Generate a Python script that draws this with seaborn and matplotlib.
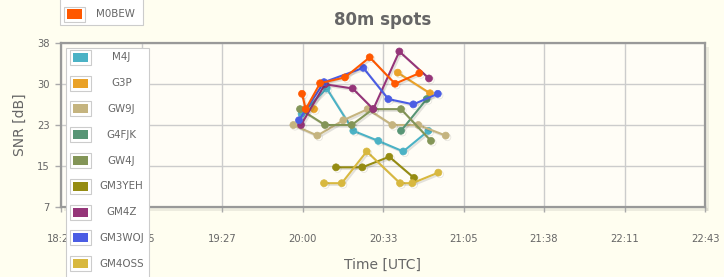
import numpy as np
import pandas as pd
import matplotlib
matplotlib.use("Agg")
import matplotlib.pyplot as plt
import matplotlib.patheffects as pe
from matplotlib.patches import Rectangle
import seaborn as sns

# ---------------- data ----------------
series_names = ["M4J", "G3P", "GW9J", "G4FJK", "GW4J", "GM3YEH", "GM4Z", "GM3WOJ", "GM4OSS", "M0BEW"]
series_colors = ["#4bb2c5", "#EAA228", "#c5b47f", "#579575", "#839557",
                 "#958c12", "#953579", "#4b5de4", "#d8b83f", "#ff5800"]

m4j_t = ["19:59:50", "20:10:00", "20:20:47", "20:30:54", "20:41:00", "20:51:10"]
m4j_snr = [24.6, 29.4, 21.4, 19.5, 17.5, 21.4]

g3p_t = ["20:04:52", None, "20:38:46", "20:51:50"]
g3p_snr = [25.5, None, 32.4, 28.5]

gw9j_t = ["19:56:30", "20:06:12", "20:16:44", "20:26:36", "20:36:34", "20:47:06", "20:58:12"]
gw9j_snr = [22.5, 20.5, 23.4, 25.5, 22.5, 22.5, 20.5]

g4fjk_t = ["20:40:06", "20:50:30"]
g4fjk_snr = [21.4, 27.4]

gw4j_t = ["19:59:12", "20:09:19", "20:20:08", "20:28:45", "20:40:06", "20:52:14"]
gw4j_snr = [25.5, 22.5, 22.5, 25.5, 25.5, 19.5]

gm3yeh_t = ["20:13:46", "20:24:25", "20:35:21", "20:45:22"]
gm3yeh_snr = [14.5, 14.5, 16.5, 12.5]

gm4z_t = ["19:59:36", "20:09:19", "20:20:32", "20:28:52", "20:39:25", "20:51:26"]
gm4z_snr = [22.5, 30.2, 29.4, 25.5, 36.4, 31.3]

gm3woj_t = ["19:58:47", "20:08:55", "20:24:50", "20:34:57", "20:45:05", "20:55:00"]
gm3woj_snr = [23.4, 30.6, 33.3, 27.4, 26.4, 28.4]

gm4oss_t = ["20:08:55", "20:16:05", "20:26:12", "20:39:42", "20:44:40", "20:55:12"]
gm4oss_snr = [11.5, 11.5, 17.5, 11.5, 11.5, 13.5]

m0bew_t = ["20:00:00", "20:01:30", "20:07:20", "20:17:25", "20:27:25", "20:37:40", "20:47:30"]
m0bew_snr = [28.4, 25.5, 30.4, 31.5, 35.3, 30.3, 32.3]

x_tick_labels = ["18:22", "18:55", "19:27", "20:00", "20:33", "21:05", "21:38", "22:11", "22:43"]
y_tick_labels = ["7", "15", "23", "30", "38"]
x_start, x_end = "18:22:24", "22:43:12"
y_min, y_max = 7, 38

series_times = [m4j_t, g3p_t, gw9j_t, g4fjk_t, gw4j_t, gm3yeh_t, gm4z_t, gm3woj_t, gm4oss_t, m0bew_t]
series_snr = [m4j_snr, g3p_snr, gw9j_snr, g4fjk_snr, gw4j_snr, gm3yeh_snr, gm4z_snr, gm3woj_snr, gm4oss_snr, m0bew_snr]


def to_min(s):
    h, m, sec = (int(v) for v in s.split(":"))
    return h * 60 + m + sec / 60.0


rows = []
for name, ts, vs in zip(series_names, series_times, series_snr):
    seg = 0
    for t, v in zip(ts, vs):
        if t is None:
            seg += 1
            continue
        rows.append({"call": name, "minute": to_min(t), "snr": v, "seg": f"{name}_{seg}"})
df = pd.DataFrame(rows)

# ---------------- figure ----------------
W, H = 724, 277
sns.set_theme(style="white")
plt.rcParams["font.family"] = ["DejaVu Sans"]

fig = plt.figure(figsize=(W / 100, H / 100), dpi=100)
fig.patch.set_facecolor("#fffef0")


def fx(px):
    return px / W


def fy(py):
    return 1 - py / H


L, R, T, B = 61, 705, 43, 207
ax = fig.add_axes([fx(L), fy(B), (R - L) / W, (B - T) / H])
ax.set_facecolor("#fffdf6")

palette = dict(zip(series_names, series_colors))
sns.lineplot(data=df, x="minute", y="snr", hue="call", hue_order=series_names,
             units="seg", estimator=None, palette=palette, marker="o",
             markersize=5, markeredgewidth=0.5, linewidth=1.5, legend=False, ax=ax)

for ln in ax.lines:
    ln.set_markeredgecolor(ln.get_color())
    ln.set_path_effects([pe.SimpleLineShadow(offset=(1.2, -1.2), shadow_color="k", alpha=0.12),
                         pe.Normal()])

x0, x1 = to_min(x_start), to_min(x_end)
ax.set_xlim(x0, x1)
ax.set_ylim(y_min, y_max)
ax.set_xticks(np.linspace(x0, x1, len(x_tick_labels)))
ax.set_xticklabels(x_tick_labels)
ax.set_yticks(np.linspace(y_min, y_max, len(y_tick_labels)))
ax.set_yticklabels(y_tick_labels)

ax.grid(True, color="#cccccc", linewidth=1.0)
ax.set_axisbelow(True)
for sp in ax.spines.values():
    sp.set_color("#999999")
    sp.set_linewidth(1.6)
    sp.set_visible(True)

ax.tick_params(axis="both", colors="#aaaaaa", labelcolor="#666666", labelsize=7.2)
ax.tick_params(axis="y", length=4.5, width=1, pad=3.5, left=True)
ax.tick_params(axis="x", length=3.5, width=1, pad=16, bottom=True)

ax.set_xlabel("Time [UTC]", fontsize=10, color="#666666")
ax.set_ylabel("SNR [dB]", fontsize=10, color="#666666")
ax.xaxis.set_label_coords((383 - L) / (R - L), (B - 265) / (B - T))
ax.xaxis.label.set_va("center")
ax.yaxis.set_label_coords((20 - L) / (R - L), 0.5)
ax.yaxis.label.set_va("center")

# plot-border shadow
fig.add_artist(Rectangle((fx(R + 1), fy(B + 4)), 3 / W, (B - T) / H, transform=fig.transFigure,
                         facecolor="#000000", alpha=0.07, edgecolor="none", zorder=-1))
fig.add_artist(Rectangle((fx(L + 3), fy(B + 4)), (R - L) / W, 3 / H, transform=fig.transFigure,
                         facecolor="#000000", alpha=0.07, edgecolor="none", zorder=-1))

fig.text(fx(383), fy(20), "80m spots", ha="center", va="center", fontsize=12,
         fontweight="bold", color="#666666")


# ---------------- legends ----------------
def legend_box(left, top, right, bottom, entries, first_cy, step):
    fig.add_artist(Rectangle((fx(left), fy(bottom)), (right - left) / W, (bottom - top) / H,
                             transform=fig.transFigure, facecolor="#ffffff",
                             edgecolor="#cccccc", linewidth=0.8, zorder=10))
    for i, (name, col) in enumerate(entries):
        cy = first_cy + i * step
        fig.add_artist(Rectangle((fx(left + 4), fy(cy + 7.5)), 20.5 / W, 15 / H,
                                 transform=fig.transFigure, facecolor="#ffffff",
                                 edgecolor="#cccccc", linewidth=0.8, zorder=11))
        fig.add_artist(Rectangle((fx(left + 6.5), fy(cy + 4.5)), 15 / W, 9 / H,
                                 transform=fig.transFigure, facecolor=col,
                                 edgecolor="none", zorder=12))
        fig.text(fx(left + 55.5), fy(cy), name, ha="center", va="center", fontsize=7.4,
                 color="#666666", zorder=12)


legend_box(60, -30, 143, 25, [(series_names[-1], series_colors[-1])], 14, 25.8)
legend_box(66, 48, 149, 320, list(zip(series_names[:-1], series_colors[:-1])), 57.3, 25.8)

fig.savefig("out.png", dpi=100, facecolor=fig.get_facecolor())
